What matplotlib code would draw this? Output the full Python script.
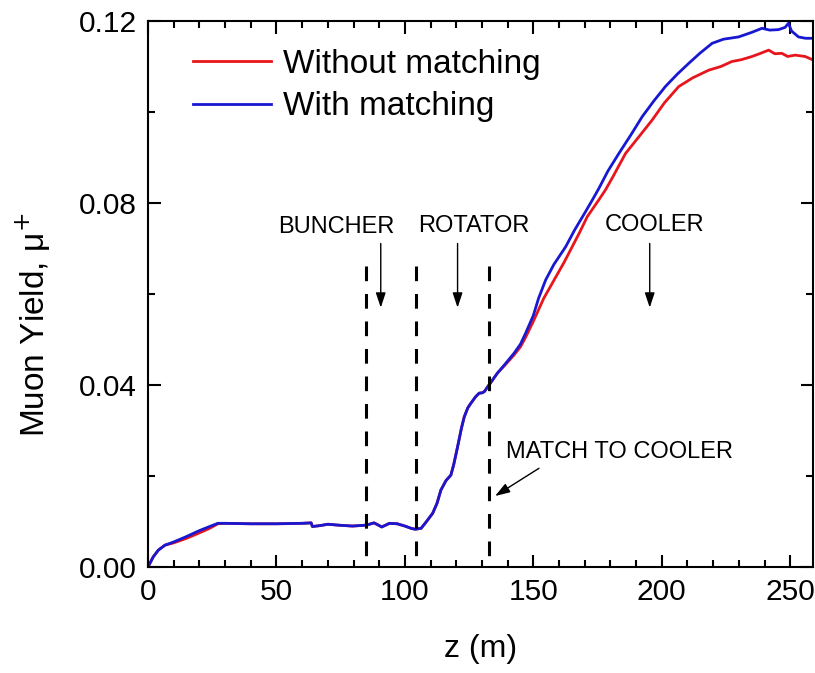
import matplotlib.pyplot as plt
from matplotlib.ticker import MultipleLocator, FormatStrFormatter

plt.rcParams["font.family"] = ["Liberation Sans", "DejaVu Sans"]

# with matching (blue)
z_with = [0, 2, 4, 6.6, 10, 15, 20, 24, 27.2, 30, 40, 50, 60, 63.5, 64, 67,
          70, 74, 79.6, 85, 88, 91, 94, 97, 100, 102.4, 104, 106.3, 108,
          110.8, 112.5, 114, 116, 117.9, 119, 120.5, 122, 123.1, 124.5,
          125.7, 127.5, 128.9, 130.2, 131, 132.2, 134, 136, 139, 142.5, 145,
          147, 150, 152, 154.8, 158, 162.6, 166, 170, 173, 175.5, 179, 183.3,
          188, 192.4, 197, 201.4, 206, 210.5, 215, 219.6, 224, 229.9, 235,
          239, 242, 245.4, 248, 249.3, 250.5, 253.2, 256, 259]
y_with = [0, 0.0022, 0.0037, 0.0048, 0.0055, 0.0067, 0.0080, 0.0089, 0.0096,
          0.0096, 0.0095, 0.0095, 0.0096, 0.0097, 0.0089, 0.0091, 0.0094,
          0.0092, 0.0090, 0.0092, 0.0097, 0.0088, 0.0096, 0.0095, 0.0090,
          0.0085, 0.0083, 0.0085, 0.0097, 0.0118, 0.0140, 0.0169, 0.0190,
          0.0202, 0.0225, 0.0264, 0.0305, 0.0330, 0.0350, 0.0360, 0.0374,
          0.0382, 0.0383, 0.0386, 0.0396, 0.0410, 0.0426, 0.0446, 0.0470,
          0.0490, 0.0514, 0.0553, 0.0590, 0.0631, 0.0665, 0.0704, 0.0740,
          0.0778, 0.0807, 0.0832, 0.0870, 0.0909, 0.0950, 0.0990, 0.1025,
          0.1056, 0.1083, 0.1107, 0.1130, 0.1151, 0.1160, 0.1165, 0.1175,
          0.1184, 0.1180, 0.1181, 0.1186, 0.1195, 0.1178, 0.1165, 0.1162,
          0.1162]

# without matching (red)
z_without = [0, 2, 4, 6.6, 10, 15, 20, 24, 27.2, 30, 40, 50, 60, 63.5, 64,
             67, 70, 74, 79.6, 85, 88, 91, 94, 97, 100, 102.4, 104, 106.3,
             108, 110.8, 112.5, 114, 116, 117.9, 119, 120.5, 122, 123.1,
             124.5, 125.7, 127.5, 128.9, 130.2, 131, 132.2, 134, 136, 139,
             142.5, 145, 147, 150, 154, 157.4, 162, 167.8, 171, 175.5, 178.1,
             181, 185.9, 191, 196.2, 201, 206.6, 212, 218.3, 223, 227.3, 231,
             235.1, 238, 241.6, 244, 246.7, 249, 251.9, 255.8, 259]
y_without = [0, 0.0022, 0.0037, 0.0048, 0.0053, 0.0063, 0.0075, 0.0085,
             0.0095, 0.0096, 0.0095, 0.0095, 0.0096, 0.0097, 0.0089, 0.0091,
             0.0094, 0.0092, 0.0090, 0.0092, 0.0097, 0.0088, 0.0096, 0.0095,
             0.0090, 0.0085, 0.0083, 0.0085, 0.0097, 0.0118, 0.0140, 0.0169,
             0.0190, 0.0202, 0.0225, 0.0264, 0.0305, 0.0330, 0.0350, 0.0360,
             0.0374, 0.0382, 0.0383, 0.0386, 0.0396, 0.0410, 0.0426, 0.0444,
             0.0466, 0.0484, 0.0505, 0.0540, 0.0590, 0.0624, 0.0670, 0.0733,
             0.0770, 0.0807, 0.0829, 0.0858, 0.0909, 0.0945, 0.0982, 0.1020,
             0.1056, 0.1075, 0.1092, 0.1100, 0.1111, 0.1115, 0.1122, 0.1128,
             0.1136, 0.1128, 0.1129, 0.1122, 0.1125, 0.1122, 0.1114]

# section boundaries (m) and height of the dashed markers
boundaries = [84.9, 104.3, 132.6]
boundary_top = 0.0661

fig = plt.figure(figsize=(8.15, 6.73), dpi=100)
ax = fig.add_axes([0.1816, 0.1575, 0.8164, 0.8113])

ax.plot(z_without, y_without, color="#e8161c", lw=2, label="Without matching")
ax.plot(z_with, y_with, color="#1818d2", lw=2, label="With matching")

for zb in boundaries:
    ax.plot([zb, zb], [boundary_top, 0], color="black", lw=2.2,
            dashes=(4.8, 4.2))

arrow = dict(arrowstyle="-|>,head_length=0.6,head_width=0.2", color="black",
             lw=1, mutation_scale=15, shrinkA=0, shrinkB=0)
for x in [90.6, 120.5, 195.3]:
    ax.annotate("", xy=(x, 0.0570), xytext=(x, 0.0711), arrowprops=arrow)
ax.annotate("", xy=(135.1, 0.0156), xytext=(152.2, 0.0217), arrowprops=arrow)

lab = dict(fontsize=17, ha="center", va="center")
ax.text(73.2, 0.0748, "BUNCHER", **lab)
ax.text(126.9, 0.0749, "ROTATOR", **lab)
ax.text(197.3, 0.0752, "COOLER", **lab)
ax.text(183.6, 0.0253, "MATCH TO COOLER", **lab)

ax.set_xlim(0, 259)
ax.set_ylim(0, 0.12)
ax.xaxis.set_major_locator(MultipleLocator(50))
ax.xaxis.set_minor_locator(MultipleLocator(10))
ax.yaxis.set_major_locator(MultipleLocator(0.04))
ax.yaxis.set_minor_locator(MultipleLocator(0.02))
ax.yaxis.set_major_formatter(FormatStrFormatter("%.2f"))
ax.tick_params(which="both", direction="in", top=True, right=True,
               width=1.5, labelsize=21.5)
ax.tick_params(which="major", length=9, pad=8)
ax.tick_params(which="minor", length=5)
for sp in ax.spines.values():
    sp.set_linewidth(1.5)

ax.set_xlabel("z (m)", fontsize=23, labelpad=20)
ax.set_ylabel("Muon Yield, μ$^{+}$", fontsize=24)
ax.yaxis.set_label_coords(-0.143, 0.443)

ax.legend(loc="upper left", bbox_to_anchor=(0.0225, 1.004), frameon=False,
          fontsize=24, handlelength=2.35, handletextpad=0.35,
          labelspacing=0.35)

fig.savefig("out.png", dpi=100)
